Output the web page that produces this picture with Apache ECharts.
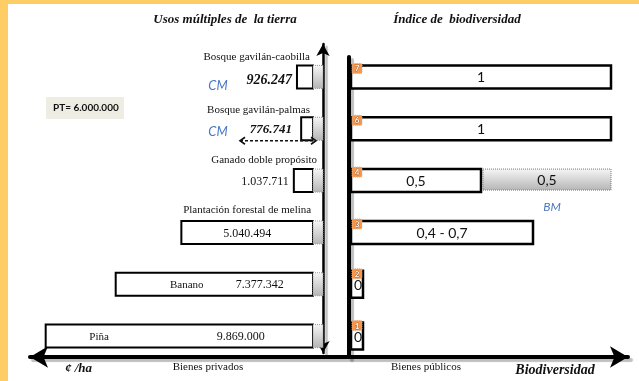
<!DOCTYPE html>
<html>
<head>
<meta charset="utf-8">
<script src="https://cdn.jsdelivr.net/npm/echarts@6/dist/echarts.min.js"></script>
<style>
  html, body { margin: 0; padding: 0; background: #fff; }
  #c { width: 639px; height: 381px; }
</style>
</head>
<body>
<div id="c"></div>
<script>
// Usos de la tierra (de arriba hacia abajo)
const usos = ['Bosque gavilán-caobilla', 'Bosque gavilán-palmas', 'Ganado doble propósito',
              'Plantación forestal de melina', 'Banano', 'Piña'];
// Valor de los bienes privados, ¢/ha
const valorHa = [926247, 776741, 1037711, 5040494, 7377342, 9869000];
// Índice de biodiversidad (bienes públicos)
const indiceBio = [1, 1, 0.5, 0.7, 0, 0];
const indiceBioTexto = ['1', '1', '0,5', '0,4 - 0,7', '0', '0'];
// Parte del índice asociada a BM
const indiceBM = [0, 0, 0.5, 0, 0, 0];
// Posición en el ordenamiento
const rango = [7, 6, 4, 3, 2, 1];
// Pago total
const pagoTotal = 6000000;

const serif = '"Liberation Serif", "Times New Roman", serif';
const sans = 'Lato, "Liberation Sans", sans-serif';
const fmt = n => String(n).replace(/\B(?=(\d{3})+(?!\d))/g, '.');
const grisFill = () => new echarts.graphic.LinearGradient(0, 0, 0, 1, [
  { offset: 0, color: '#F7F7F7' }, { offset: 1, color: '#B4B4B4' }
]);
const azul = '#4A78C2';

const BAR_H = 23, CAP_W = 10;

function txt(x, y, text, font, align, fill) {
  return { type: 'text', x: x, y: y,
    style: { text: text, font: font, fill: fill || '#111', align: align || 'center', verticalAlign: 'middle' } };
}

// Disposición de los textos de cada fila del panel izquierdo
const disposicion = ['cm', 'cmFlecha', 'encima', 'encimaCentro', 'dentro', 'dentro'];
const fraccionNombre = [0, 0, 0, 0, 0.36, 0.2];

function renderUso(params, api) {
  const v = api.value(0), i = api.value(1);
  const o = api.coord([0, i]);
  const e = api.coord([v, i]);
  const ox = o[0], cy = o[1];
  const left = Math.min(e[0], ox - CAP_W);
  const top = cy - BAR_H / 2;
  const body = ox - CAP_W - left;
  const etiqueta = fmt(v);
  const kids = [];
  if (body > 0) {
    kids.push({ type: 'rect', shape: { x: left, y: top, width: body, height: BAR_H },
      style: { fill: '#fff', stroke: '#000', lineWidth: 2 } });
  }
  kids.push({ type: 'rect', shape: { x: ox - CAP_W, y: top, width: CAP_W, height: BAR_H },
    style: { fill: grisFill(), stroke: '#999', lineWidth: 1, lineDash: [1, 1] } });

  const fNombre = '11px ' + serif;
  const fValor = '12px ' + serif;
  const tipo = disposicion[i];
  if (tipo === 'cm') {
    kids.push(txt(ox - 13, cy - 20, usos[i], fNombre, 'right'));
    kids.push(txt(Math.min(ox - 8, left - 5), cy + 3, etiqueta, 'italic bold 14px ' + serif, 'right'));
    kids.push(txt(ox - 105, cy + 9, 'CM', 'italic 13px ' + sans, 'center', azul));
  } else if (tipo === 'cmFlecha') {
    kids.push(txt(ox - 13, cy - 19, usos[i], fNombre, 'right'));
    kids.push(txt(Math.min(ox - 31, left - 5), cy + 1, etiqueta, 'italic bold 13px ' + serif, 'right'));
    kids.push(txt(ox - 105, cy + 3, 'CM', 'italic 13px ' + sans, 'center', azul));
    const ya = cy + 12, xa = ox - 83, xb = ox - 7;
    kids.push({ type: 'line', shape: { x1: xa, y1: ya, x2: xb, y2: ya },
      style: { stroke: '#111', lineWidth: 1.6, lineDash: [3, 2] } });
    kids.push({ type: 'polyline', shape: { points: [[xa + 5, ya - 3.5], [xa, ya], [xa + 5, ya + 3.5]] },
      style: { stroke: '#111', lineWidth: 1.6, fill: null } });
    kids.push({ type: 'polyline', shape: { points: [[xb - 5, ya - 3.5], [xb, ya], [xb - 5, ya + 3.5]] },
      style: { stroke: '#111', lineWidth: 1.6, fill: null } });
  } else if (tipo === 'encima') {
    kids.push(txt(ox - 6, cy - 20, usos[i], fNombre, 'right'));
    if (body > 62) kids.push(txt(ox - CAP_W - 6, cy + 1, etiqueta, fValor, 'right'));
    else kids.push(txt(left - 5, cy + 1, etiqueta, fValor, 'right'));
  } else if (tipo === 'encimaCentro') {
    kids.push(txt(left + body / 2, cy - 22, usos[i], fNombre, 'center'));
    kids.push(txt(left + body / 2, cy + 1, etiqueta, fValor, 'center'));
  } else {
    kids.push(txt(left + fraccionNombre[i] * body, cy + 1, usos[i], fNombre, 'center'));
    kids.push(txt(left + 0.73 * body, cy + 1, etiqueta, fValor, 'center'));
  }
  return { type: 'group', children: kids };
}

function renderBio(params, api) {
  const v = api.value(0), i = api.value(1), bm = api.value(2);
  const o = api.coord([0, i]), e = api.coord([v, i]);
  const x0 = o[0], cy = o[1];
  const h = v > 0 ? 23 : 27;
  const x1 = Math.max(e[0], x0 + 12);
  const top = cy - h / 2;
  const kids = [];
  kids.push({ type: 'rect', shape: { x: x0, y: top, width: x1 - x0, height: h },
    style: { fill: '#fff', stroke: '#000', lineWidth: 2.5 } });
  kids.push(txt((x0 + x1) / 2 + (v > 0 ? 0 : 1), cy + 1, indiceBioTexto[i], '14px ' + sans, 'center', '#111'));
  if (bm > 0) {
    const e2 = api.coord([v + bm, i]);
    const gx = x1 + 2;
    kids.push({ type: 'rect', shape: { x: gx, y: top, width: e2[0] - gx, height: h - 2 },
      style: { fill: grisFill(), stroke: '#777', lineWidth: 1, lineDash: [1, 1] } });
    kids.push(txt((gx + e2[0]) / 2, cy, fmt(bm).replace('.', ','), '14px ' + sans, 'center', '#111'));
    kids.push(txt((gx + e2[0]) / 2 + 5, cy + 27, 'BM', 'italic 12px ' + sans, 'center', azul));
  }
  kids.push({ type: 'rect', shape: { x: x0 + 1, y: top - 2, width: 10, height: 10, r: 1 },
    style: { fill: '#F7964A', stroke: '#BBB', lineWidth: 1, lineDash: [1, 1] } });
  kids.push({ type: 'text', x: x0 + 6, y: top + 3.5,
    style: { text: String(rango[i]), font: 'bold 8px ' + sans, fill: '#fff', align: 'center',
      verticalAlign: 'middle', stroke: '#7a3d10', lineWidth: 0.6 } });
  return { type: 'group', children: kids };
}

const sombra = { shadowColor: 'rgba(0,0,0,0.25)', shadowBlur: 1, shadowOffsetX: 3, shadowOffsetY: 3 };
const ocultos = { axisTick: { show: false }, axisLabel: { show: false }, splitLine: { show: false } };

const chart = echarts.init(document.getElementById('c'));
chart.setOption({
  animation: false,
  backgroundColor: '#fff',
  grid: [
    { left: 42, top: 51, width: 281, height: 311 },   // bienes privados
    { left: 351, top: 51, width: 260, height: 311 },  // biodiversidad
    { left: 30, top: 300, width: 598, height: 57 },   // eje horizontal
    { left: 323, top: 44, width: 10, height: 309 },   // flecha vertical
    { left: 349, top: 57, width: 10, height: 300 }    // eje de biodiversidad
  ],
  xAxis: [
    { gridIndex: 0, type: 'value', min: 0, max: 10000000, inverse: true, show: false },
    { gridIndex: 1, type: 'value', min: 0, max: 1, show: false },
    Object.assign({ gridIndex: 2, type: 'value', min: 0, max: 1,
      axisLine: { show: true, symbol: ['arrow', 'arrow'], symbolSize: [16, 18],
        lineStyle: Object.assign({ color: '#000', width: 4 }, sombra) } }, ocultos),
    { gridIndex: 3, type: 'value', show: false },
    { gridIndex: 4, type: 'value', show: false }
  ],
  yAxis: [
    { gridIndex: 0, type: 'category', data: usos, inverse: true, show: false },
    { gridIndex: 1, type: 'category', data: usos, inverse: true, show: false },
    { gridIndex: 2, type: 'value', show: false },
    Object.assign({ gridIndex: 3, type: 'value', min: 0, max: 1,
      axisLine: { show: true, symbol: ['arrow', 'arrow'], symbolSize: [10, 12],
        lineStyle: Object.assign({ color: '#000', width: 2.5 }, sombra) } }, ocultos),
    Object.assign({ gridIndex: 4, type: 'value', min: 0, max: 1,
      axisLine: { show: true, lineStyle: Object.assign({ color: '#000', width: 4 }, sombra) } }, ocultos)
  ],
  series: [
    { type: 'custom', name: '¢/ha', xAxisIndex: 0, yAxisIndex: 0, renderItem: renderUso,
      encode: { x: 0, y: 1 }, data: valorHa.map((v, i) => [v, i]), z: 3 },
    { type: 'custom', name: 'Biodiversidad', xAxisIndex: 1, yAxisIndex: 1, renderItem: renderBio,
      encode: { x: 0, y: 1 }, data: indiceBio.map((v, i) => [v, i, indiceBM[i]]), z: 3 }
  ],
  graphic: [
    { type: 'rect', shape: { x: 0, y: 0, width: 639, height: 4 }, style: { fill: '#FFCD66' }, z: 10 },
    { type: 'rect', shape: { x: 0, y: 0, width: 8, height: 381 }, style: { fill: '#FFCD66' }, z: 10 },
    { type: 'text', x: 225, y: 20, style: { text: 'Usos múltiples de  la tierra', font: 'italic bold 13px ' + serif,
      fill: '#111', align: 'center', verticalAlign: 'middle' } },
    { type: 'text', x: 457, y: 20, style: { text: 'Índice de  biodiversidad', font: 'italic bold 13px ' + serif,
      fill: '#111', align: 'center', verticalAlign: 'middle' } },
    { type: 'rect', shape: { x: 46, y: 97, width: 78, height: 22 }, style: { fill: '#EDEDE3' } },
    { type: 'text', x: 53, y: 108, style: { text: 'PT= ' + fmt(pagoTotal), font: 'bold 10px ' + sans,
      fill: '#111', align: 'left', verticalAlign: 'middle' } },
    { type: 'text', x: 65, y: 369, style: { text: '¢ /ha', font: 'italic bold 13px ' + serif,
      fill: '#111', align: 'left', verticalAlign: 'middle' } },
    { type: 'text', x: 208, y: 367, style: { text: 'Bienes privados', font: '11px ' + serif,
      fill: '#111', align: 'center', verticalAlign: 'middle' } },
    { type: 'text', x: 426, y: 367, style: { text: 'Bienes públicos', font: '11px ' + serif,
      fill: '#111', align: 'center', verticalAlign: 'middle' } },
    { type: 'text', x: 555, y: 370, style: { text: 'Biodiversidad', font: 'italic bold 14px ' + serif,
      fill: '#111', align: 'center', verticalAlign: 'middle' } }
  ]
});
</script>
</body>
</html>
